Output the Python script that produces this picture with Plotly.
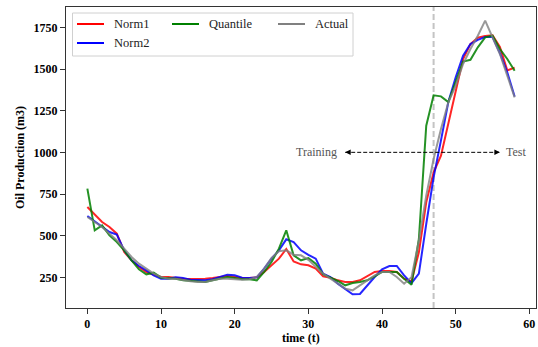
import plotly.graph_objects as go

# ---------------- data ----------------
time_t = list(range(59))

norm1 = [672, 626, 582, 552, 512, 402, 352, 312, 282, 266,
         252, 252, 246, 242, 240, 240, 242, 246, 252, 258,
         252, 246, 246, 250, 282, 322, 362, 420, 345, 328,
         322, 302, 256, 248, 232, 222, 222, 232, 256, 282,
         288, 288, 282, 242, 225, 400, 700, 880, 980, 1180,
         1380, 1560, 1650, 1688, 1698, 1702, 1632, 1492, 1508]

norm2 = [618, 586, 552, 522, 506, 412, 352, 318, 292, 262,
         242, 242, 250, 246, 236, 232, 232, 238, 252, 266,
         262, 248, 246, 250, 302, 362, 412, 478, 462, 412,
         385, 362, 272, 252, 212, 178, 148, 150, 202, 252,
         298, 318, 318, 262, 215, 272, 570, 850, 1072, 1302,
         1450, 1580, 1650, 1675, 1692, 1692, 1595, 1480, 1335]

quantile = [782, 532, 562, 502, 462, 412, 352, 298, 268, 278,
            248, 246, 242, 232, 228, 222, 222, 232, 242, 252,
            246, 238, 238, 232, 282, 342, 422, 532, 382, 352,
            365, 332, 268, 248, 228, 202, 216, 222, 232, 256,
            282, 282, 282, 242, 205, 480, 1160, 1342, 1336, 1302,
            1420, 1545, 1555, 1630, 1690, 1700, 1620, 1560, 1490]

actual = [612, 582, 552, 512, 472, 422, 372, 332, 302, 272,
          252, 242, 242, 232, 226, 222, 222, 232, 242, 242,
          238, 236, 238, 252, 302, 366, 406, 412, 386, 382,
          355, 312, 272, 242, 212, 182, 172, 202, 236, 262,
          282, 282, 252, 212, 250, 470, 740, 960, 1140, 1300,
          1400, 1530, 1620, 1700, 1790, 1690, 1590, 1460, 1330]

series_names = ["Norm1", "Norm2", "Quantile", "Actual"]
series_colors = ["#ff0000", "#0000ff", "#008000", "#808080"]

x_ticks = [0, 10, 20, 30, 40, 50, 60]
y_ticks = [250, 500, 750, 1000, 1250, 1500, 1750]

split_t = 47
arrow_y = 1000
arrow_left = 35
arrow_right = 56

# ---------------- figure ----------------
W, H = 538, 347
L, R, T, B = 66, 536, 7, 308  # plot area in pixels

def px(xp):
    return (xp - L) / (R - L)

def py(yp):
    return (B - yp) / (B - T)

SERIF = "Liberation Serif, Times New Roman, serif"

fig = go.Figure()
all_series = [norm1, norm2, quantile, actual]
for name, vals, col in zip(series_names, all_series, series_colors):
    fig.add_trace(go.Scatter(
        x=time_t, y=vals, mode="lines", name=name,
        line=dict(color=col, width=2),
        opacity=0.85 if name != "Actual" else 0.8,
        showlegend=False,
    ))

# matplotlib-like autoscale margins
xlo, xhi = min(time_t), max(time_t)
xpad = 0.05 * (xhi - xlo)
allv = [v for s in all_series for v in s]
ylo, yhi = min(allv), max(allv)
ypad = 0.05 * (yhi - ylo)

shapes = []
annotations = []

# vertical split line
shapes.append(dict(type="line", xref="x", yref="paper", x0=split_t, x1=split_t,
                   y0=0, y1=1, line=dict(color="#c4c4c4", width=2, dash="6px,3px"),
                   layer="below"))
# dashed horizontal arrow line
shapes.append(dict(type="line", xref="x", yref="y", x0=arrow_left, x1=arrow_right,
                   y0=arrow_y, y1=arrow_y, line=dict(color="black", width=1, dash="4px,2px")))
for tip, tail in [(arrow_left, arrow_left + 0.9), (arrow_right, arrow_right - 0.9)]:
    annotations.append(dict(x=tip, y=arrow_y, ax=tail, ay=arrow_y, xref="x", yref="y",
                            axref="x", ayref="y", text="", showarrow=True,
                            arrowhead=2, arrowsize=1.1, arrowwidth=1, arrowcolor="black"))
annotations.append(dict(x=arrow_left - 0.9, y=arrow_y, xref="x", yref="y", text="Training",
                        showarrow=False, xanchor="right", yanchor="middle",
                        font=dict(family=SERIF, size=12, color="#555555")))
annotations.append(dict(x=arrow_right + 0.5, y=arrow_y, xref="x", yref="y", text="Test",
                        showarrow=False, xanchor="left", yanchor="middle",
                        font=dict(family=SERIF, size=12, color="#555555")))

# manual legend (matplotlib style, 3 columns)
shapes.append(dict(type="rect", xref="paper", yref="paper",
                   x0=px(72.5), x1=px(353), y0=py(56), y1=py(13),
                   line=dict(color="#d0d0d0", width=1), fillcolor="rgba(255,255,255,0.85)"))
legend_items = [
    ("Norm1", series_colors[0], 77, 24),
    ("Norm2", series_colors[1], 77, 43),
    ("Quantile", series_colors[2], 172, 24),
    ("Actual", series_colors[3], 278, 24),
]
for name, col, x0, yc in legend_items:
    shapes.append(dict(type="line", xref="paper", yref="paper",
                       x0=px(x0), x1=px(x0 + 27), y0=py(yc), y1=py(yc),
                       line=dict(color=col, width=2)))
    annotations.append(dict(x=px(x0 + 35), y=py(yc), xref="paper", yref="paper",
                            text=name, showarrow=False, xanchor="left", yanchor="middle",
                            font=dict(family=SERIF, size=12.5, color="#222222")))

# axis titles
annotations.append(dict(x=px(301), y=py(338), xref="paper", yref="paper",
                        text="<b>time (t)</b>", showarrow=False,
                        xanchor="center", yanchor="middle",
                        font=dict(family=SERIF, size=12, color="black")))
annotations.append(dict(x=px(20), y=py(158), xref="paper", yref="paper",
                        text="<b>Oil Production (m3)</b>", showarrow=False, textangle=-90,
                        xanchor="center", yanchor="middle",
                        font=dict(family=SERIF, size=12, color="black")))

axis_common = dict(showgrid=False, zeroline=False, showline=True, mirror=True,
                   linecolor="#333333", linewidth=1, ticks="outside", ticklen=5,
                   tickwidth=1, tickcolor="#333333",
                   tickfont=dict(family=SERIF, size=12, color="black", weight="bold"))

fig.update_layout(
    width=W, height=H, autosize=False,
    margin=dict(l=L, r=W - R, t=T, b=H - B),
    paper_bgcolor="white", plot_bgcolor="white",
    xaxis=dict(range=[xlo - xpad, xhi + xpad], tickvals=x_ticks, **axis_common),
    yaxis=dict(range=[ylo - ypad, yhi + ypad], tickvals=y_ticks, **axis_common),
    shapes=shapes, annotations=annotations, showlegend=False,
)

fig.write_html("out.html")
